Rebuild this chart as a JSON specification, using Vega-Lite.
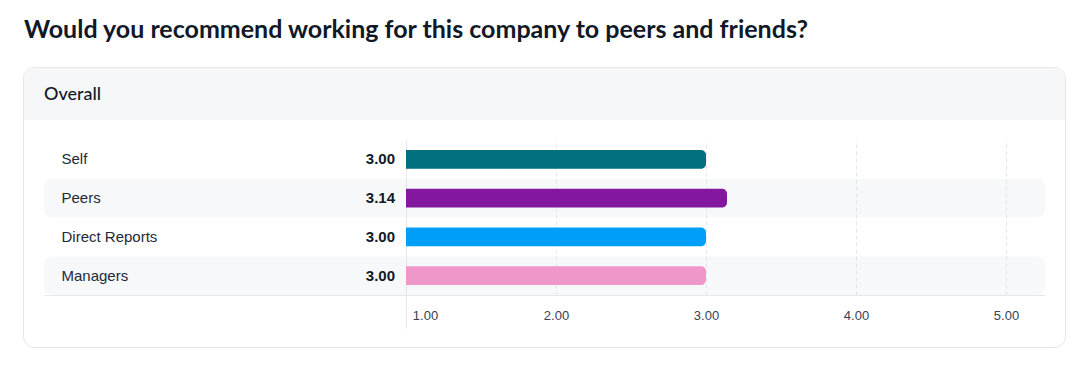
{
  "$schema": "https://vega.github.io/schema/vega-lite/v6.json",
  "width": 1001,
  "height": 155,
  "autosize": {"type": "none"},
  "padding": {"left": 44, "top": 140, "right": 43, "bottom": 79},
  "background": "#ffffff",
  "title": {
    "text": "Would you recommend working for this company to peers and friends?",
    "anchor": "start",
    "frame": "group",
    "dx": -20,
    "offset": 4.5,
    "baseline": "alphabetic",
    "font": "Lato",
    "fontSize": 25,
    "fontWeight": "bold",
    "color": "#111827"
  },
  "config": {
    "view": {"stroke": null},
    "axis": {"labelFont": "Liberation Sans"}
  },
  "data": {
    "values": [
      {"label": "Self", "value": 3.0},
      {"label": "Peers", "value": 3.14},
      {"label": "Direct Reports", "value": 3.0},
      {"label": "Managers", "value": 3.0}
    ]
  },
  "encoding": {
    "y": {
      "field": "label",
      "type": "nominal",
      "sort": null,
      "scale": {"domain": ["Self", "Peers", "Direct Reports", "Managers"], "paddingInner": 0, "paddingOuter": 0},
      "axis": {
        "title": null,
        "orient": "left",
        "ticks": false,
        "domain": false,
        "labelAlign": "left",
        "labelPadding": -17,
        "labelFont": "Liberation Sans",
        "labelFontSize": 15,
        "labelColor": "#1f2937"
      }
    }
  },
  "layer": [
    {
      "data": {"values": [{"section": "Overall"}]},
      "mark": {"type": "rect", "fill": null, "fillOpacity": 0, "stroke": "#e3e5e8", "strokeWidth": 1, "cornerRadius": 11, "clip": false},
      "encoding": {
        "x": {"value": -20.5},
        "x2": {"value": 1021.5},
        "y": {"value": -72.5},
        "y2": {"value": 207.5}
      }
    },
    {
      "data": {"values": [{"section": "Overall"}]},
      "mark": {"type": "rect", "fill": "#f6f7f9", "cornerRadiusTopLeft": 10, "cornerRadiusTopRight": 10, "clip": false},
      "encoding": {
        "x": {"value": -20},
        "x2": {"value": 1021},
        "y": {"value": -72},
        "y2": {"value": -20}
      }
    },
    {
      "data": {"values": [{"section": "Overall"}]},
      "mark": {"type": "text", "align": "left", "baseline": "alphabetic", "font": "Lato", "fontSize": 18, "fontWeight": 500, "color": "#111827", "clip": false},
      "encoding": {
        "x": {"value": 0},
        "y": {"value": -40},
        "text": {"field": "section"}
      }
    },
    {
      "transform": [
        {"window": [{"op": "row_number", "as": "i"}]},
        {"filter": "datum.i % 2 == 0"}
      ],
      "mark": {"type": "rect", "fill": "#d5dbe5", "fillOpacity": 0.2, "cornerRadius": 8},
      "encoding": {
        "x": {"value": 0},
        "x2": {"value": "width"}
      }
    },
    {
      "mark": {"type": "bar", "height": {"band": 0.49}, "cornerRadiusTopRight": 5, "cornerRadiusBottomRight": 5},
      "encoding": {
        "x": {
          "field": "value",
          "type": "quantitative",
          "scale": {"domain": [-1.41333, 5.26], "nice": false, "zero": false},
          "axis": {
            "title": null,
            "values": [1, 2, 3, 4, 5],
            "format": ".2f",
            "domainColor": "#e5e7eb",
            "grid": true,
            "gridColor": "#e5e7eb",
            "gridDash": {"expr": "datum.value == 1 ? [] : [4, 3]"},
            "tickSize": 33,
            "tickColor": {"expr": "datum.value == 1 ? '#e5e7eb' : 'transparent'"},
            "labelPadding": -19,
            "labelOffset": {"expr": "datum.value == 1 ? 19 : 0"},
            "labelFont": "Liberation Sans",
            "labelFontSize": 13,
            "labelColor": "#374151"
          }
        },
        "x2": {"datum": 1},
        "color": {
          "field": "label",
          "type": "nominal",
          "scale": {
            "domain": ["Self", "Peers", "Direct Reports", "Managers"],
            "range": ["#00707f", "#83179d", "#009ff7", "#f097c9"]
          },
          "legend": null
        }
      }
    },
    {
      "mark": {"type": "text", "align": "right", "baseline": "middle", "dx": -11, "font": "Liberation Sans", "fontSize": 15, "fontWeight": "bold", "color": "#111827"},
      "encoding": {
        "x": {"datum": 1, "type": "quantitative"},
        "text": {"field": "value", "type": "quantitative", "format": ".2f"}
      }
    }
  ]
}
